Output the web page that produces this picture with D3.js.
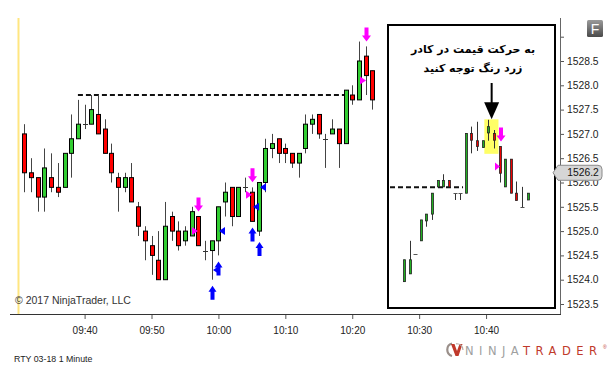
<!DOCTYPE html>
<html><head><meta charset="utf-8">
<script src="https://cdn.jsdelivr.net/npm/d3@7"></script>
<style>body{margin:0;background:#fff}svg{display:block}</style>
</head><body><svg id="c" width="610" height="380"></svg>
<script>
// ---- main chart: RTY 03-18, 1 minute bars starting 09:31 ----
const firstBarMinute = 1; // minutes after 09:30
const mainOpen  = [1527.0,1526.2,1526.1,1525.7,1526.1,1525.9,1525.9,1526.6,1526.9,1527.2,1527.2,1527.4,1527.1,1526.6,1526.1,1525.9,1526.1,1525.5,1525.0,1524.7,1524.4,1524.0,1525.3,1525.0,1524.8,1524.9,1525.3,1524.6,1524.6,1524.8,1525.6,1525.9,1525.3,1525.9,1525.8,1525.0,1526.0,1526.7,1526.9,1526.7,1526.6,1526.4,1526.7,1527.2,1527.4,1526.9,1527.0,1527.1,1526.8,1527.8,1527.7,1528.6,1528.3];
const mainHigh  = [1527.2,1526.5,1526.1,1526.7,1526.6,1526.4,1526.6,1527.4,1527.7,1527.6,1527.8,1527.8,1527.3,1526.8,1526.2,1526.2,1526.4,1525.6,1525.1,1524.9,1525.0,1525.6,1525.4,1525.2,1525.1,1525.5,1525.3,1524.8,1524.8,1525.5,1526.0,1525.9,1525.9,1526.1,1525.9,1526.0,1526.9,1527.0,1526.9,1526.8,1526.6,1526.6,1527.4,1527.4,1527.4,1527.0,1527.3,1527.1,1527.9,1528.0,1528.9,1528.8,1528.3];
const mainLow   = [1525.8,1525.8,1525.4,1525.4,1525.8,1525.7,1525.9,1526.1,1526.9,1527.1,1527.2,1527.0,1526.6,1526.0,1525.4,1525.8,1525.6,1524.9,1524.4,1524.1,1524.0,1524.0,1524.8,1524.6,1524.7,1524.9,1524.7,1524.4,1524.0,1524.5,1525.3,1525.1,1525.3,1525.8,1525.2,1524.9,1525.8,1526.5,1526.4,1526.4,1526.3,1526.1,1526.6,1527.0,1526.9,1526.3,1527.0,1526.3,1526.8,1527.6,1527.7,1527.8,1527.5];
const mainClose = [1526.2,1526.1,1525.7,1526.3,1525.9,1525.8,1526.6,1526.9,1527.2,1527.2,1527.5,1527.0,1526.6,1526.2,1525.9,1526.1,1525.6,1525.1,1524.8,1524.5,1524.0,1525.1,1525.0,1524.7,1525.0,1525.4,1524.7,1524.6,1524.8,1525.5,1525.8,1525.3,1525.9,1525.9,1525.2,1526.0,1526.7,1526.8,1526.6,1526.6,1526.4,1526.6,1527.2,1527.3,1527.0,1526.9,1527.1,1526.8,1527.9,1527.7,1528.5,1528.2,1527.7];

// signal markers (bar index, price)
const sellArrowBars   = [26, 34, 51];
const sellFlagBars    = [26, 34, 51];
const sellFlagPrices  = [1525.0, 1525.75, 1528.1];
const buyArrowBars    = [28, 29, 34, 35];
const buyFlagBars     = [28, 29, 34, 35];
const buyFlagPrices   = [1524.2, 1525.0, 1525.5, 1525.9];

// horizontal dashed resistance line
const resistanceLevel = 1527.8;
const resistanceFrom = 8, resistanceTo = 48;

// axes
const yTickValues = [1523.5,1524.0,1524.5,1525.0,1525.5,1526.0,1526.5,1527.0,1527.5,1528.0,1528.5,1529.0];
const yTickLabels = ["1523.5","1524.0","1524.5","1525.0","1525.5","1526.0","1526.5","1527.0","1527.5","1528.0","1528.5",""];
const xTickMinutes = [10,20,30,40,50,60,70];
const xTickLabels  = ["09:40","09:50","10:00","10:10","10:20","10:30","10:40"];
const lastPrice = 1526.2;

// ---- inset picture (other chart) ----
const insetOpen  = [1523.96,1524.12,1524.53,1524.80,1525.21,1525.35,1525.91,1525.91,1526.04,1525.78,1525.78,1525.78,1527.01,1526.86,1526.72,1527.02,1527.01,1526.74,1525.91,1526.48,1525.78,1525.49,1525.64];
const insetHigh  = [1524.41,1524.80,1524.53,1525.23,1525.35,1525.78,1526.04,1526.17,1526.04,1525.78,1525.78,1527.01,1527.15,1527.25,1526.86,1527.29,1527.08,1526.74,1526.48,1526.48,1526.02,1525.91,1525.78];
const insetLow   = [1523.96,1524.12,1524.53,1524.80,1525.09,1525.23,1525.91,1525.91,1525.91,1525.64,1525.64,1525.78,1526.60,1526.65,1526.72,1526.86,1526.70,1526.00,1525.91,1525.78,1525.63,1525.49,1525.64];
const insetClose = [1524.41,1524.41,1524.53,1525.23,1525.35,1525.78,1526.04,1526.04,1525.91,1525.78,1525.78,1527.01,1526.87,1526.74,1526.86,1527.15,1526.87,1526.19,1526.48,1525.78,1525.63,1525.49,1525.78];
const insetLevel = 1525.9;
const insetHighlightBars = [15, 16];
const insetHighlightPrices = [1527.30, 1526.59];
const insetSellBar = 17, insetSellFlagPrice = 1526.33;
const insetText = ["به حرکت قیمت در کادر", "زرد رنگ توجه کنید"];

const svg = d3.select("#c");
const FONT = "'Liberation Sans', Arial, sans-serif";

const x = d3.scaleLinear().domain([-1.15, 81.05]).range([10, 560]);
const y = d3.scaleLinear().domain([1523.5, 1528.5]).range([304, 61]);
const bx = i => x(firstBarMinute + i);

const GREEN = "#32cd32", RED = "#ff0000";

// session start line
svg.append("line").attr("x1", x(0)+0.8).attr("x2", x(0)+0.8).attr("y1", 18).attr("y2", 314)
  .attr("stroke", "#ffe680").attr("stroke-width", 2);

// resistance dashed line
svg.append("line").attr("x1", bx(resistanceFrom)).attr("x2", bx(resistanceTo))
  .attr("y1", y(resistanceLevel)).attr("y2", y(resistanceLevel))
  .attr("stroke", "#111").attr("stroke-width", 2).attr("stroke-dasharray", "5,3");

// main candles
const bars = d3.range(mainOpen.length).map(i => ({i, o: mainOpen[i], h: mainHigh[i], l: mainLow[i], c: mainClose[i]}));
const g = svg.append("g");
g.selectAll("line.wick").data(bars).join("line")
  .attr("x1", d => Math.round(bx(d.i)) + 0.5).attr("x2", d => Math.round(bx(d.i)) + 0.5)
  .attr("y1", d => y(d.h)).attr("y2", d => y(d.l))
  .attr("stroke", "#444").attr("stroke-width", 1);
g.selectAll("rect.body").data(bars.filter(d => d.o !== d.c)).join("rect")
  .attr("x", d => Math.round(bx(d.i)) - 1.5).attr("width", 4)
  .attr("y", d => y(Math.max(d.o, d.c))).attr("height", d => Math.abs(y(d.o) - y(d.c)))
  .attr("fill", d => d.c > d.o ? GREEN : RED).attr("stroke", "#000").attr("stroke-width", 1);
g.selectAll("line.doji").data(bars.filter(d => d.o === d.c)).join("line")
  .attr("x1", d => Math.round(bx(d.i)) - 2).attr("x2", d => Math.round(bx(d.i)) + 3)
  .attr("y1", d => Math.round(y(d.o)) + 0.5).attr("y2", d => Math.round(y(d.o)) + 0.5)
  .attr("stroke", "#333").attr("stroke-width", 1);

// arrow helpers
function downArrow(cx, tipY, color) {
  return svg.append("path").attr("fill", color).attr("d",
    `M${cx-2},${tipY-14} L${cx+2},${tipY-14} L${cx+2},${tipY-6} L${cx+4.5},${tipY-6} L${cx},${tipY} L${cx-4.5},${tipY-6} L${cx-2},${tipY-6} Z`);
}
function upArrow(cx, tipY, color) {
  return svg.append("path").attr("fill", color).attr("d",
    `M${cx-2},${tipY+14} L${cx+2},${tipY+14} L${cx+2},${tipY+6} L${cx+4},${tipY+6} L${cx},${tipY} L${cx-4},${tipY+6} L${cx-2},${tipY+6} Z`);
}
const MAG = "#ff00ff", BLUE = "#0000ff";
sellArrowBars.forEach(i => downArrow(Math.round(bx(i)) + 0.5, y(mainHigh[i]) - 5, MAG));
buyArrowBars.forEach(i => upArrow(Math.round(bx(i)) + 0.5, y(mainLow[i]) + 6, BLUE));
sellFlagBars.forEach((i, k) => {
  const cx = Math.round(bx(i)), cy = y(sellFlagPrices[k]);
  svg.append("path").attr("fill", MAG).attr("d", `M${cx-6},${cy-4} L${cx},${cy} L${cx-6},${cy+4} Z`);
});
buyFlagBars.forEach((i, k) => {
  const cx = Math.round(bx(i)), cy = y(buyFlagPrices[k]);
  svg.append("path").attr("fill", BLUE).attr("d", `M${cx+7},${cy-4} L${cx+1},${cy} L${cx+7},${cy+4} Z`);
});

// ---- axes ----
const yAxis = svg.append("g").attr("transform", "translate(560,0)")
  .call(d3.axisRight(y).tickValues(yTickValues).tickSize(4).tickPadding(3)
    .tickFormat((d, i) => yTickLabels[i]));
yAxis.select(".domain").remove();
yAxis.selectAll("line").attr("stroke", "#555");
yAxis.selectAll("text").attr("font-family", FONT).attr("font-size", 10.3).attr("fill", "#222");
svg.append("line").attr("x1", 560.5).attr("x2", 560.5).attr("y1", 18).attr("y2", 315)
  .attr("stroke", "#666").attr("stroke-width", 1);

const xAxis = svg.append("g").attr("transform", "translate(0,314)")
  .call(d3.axisBottom(x).tickValues(xTickMinutes).tickSize(5).tickPadding(8)
    .tickFormat((d, i) => xTickLabels[i]));
xAxis.select(".domain").remove();
xAxis.selectAll("line").attr("stroke", "#555");
xAxis.selectAll("text").attr("font-family", FONT).attr("font-size", 10).attr("fill", "#222");
svg.append("line").attr("x1", 10).attr("x2", 561).attr("y1", 314.5).attr("y2", 314.5)
  .attr("stroke", "#333").attr("stroke-width", 1);

// ---- inset box ----
const xi = d3.scaleLinear().domain([0, 22]).range([404, 527.7]);
svg.append("rect").attr("x", 388).attr("y", 25).attr("width", 167).attr("height", 283)
  .attr("fill", "#fff").attr("stroke", "#000").attr("stroke-width", 2);

// highlight
svg.append("rect").attr("x", xi(insetHighlightBars[0]) - 4).attr("width", xi(insetHighlightBars[1]) - xi(insetHighlightBars[0]) + 8.5)
  .attr("y", y(insetHighlightPrices[0])).attr("height", y(insetHighlightPrices[1]) - y(insetHighlightPrices[0]))
  .attr("fill", "#ffff66");

// inset dashed line
svg.append("line").attr("x1", 390).attr("x2", xi(10.5)).attr("y1", y(insetLevel)).attr("y2", y(insetLevel))
  .attr("stroke", "#111").attr("stroke-width", 2).attr("stroke-dasharray", "5,3");

const ib = d3.range(insetOpen.length).map(i => ({i, o: insetOpen[i], h: insetHigh[i], l: insetLow[i], c: insetClose[i]}));
const gi = svg.append("g");
gi.selectAll("line.wick").data(ib).join("line")
  .attr("x1", d => Math.round(xi(d.i)) + 0.5).attr("x2", d => Math.round(xi(d.i)) + 0.5)
  .attr("y1", d => y(d.h)).attr("y2", d => y(d.l))
  .attr("stroke", "#333").attr("stroke-width", 1);
gi.selectAll("rect.body").data(ib.filter(d => d.o !== d.c)).join("rect")
  .attr("x", d => Math.round(xi(d.i)) - 0.5).attr("width", 2)
  .attr("y", d => y(Math.max(d.o, d.c))).attr("height", d => Math.abs(y(d.o) - y(d.c)))
  .attr("fill", d => d.c > d.o ? "#22b022" : "#ee0000").attr("stroke", "#222").attr("stroke-width", 0.8);
gi.selectAll("line.doji").data(ib.filter(d => d.o === d.c)).join("line")
  .attr("x1", d => Math.round(xi(d.i)) - 1.5).attr("x2", d => Math.round(xi(d.i)) + 2.5)
  .attr("y1", d => Math.round(y(d.o)) + 0.5).attr("y2", d => Math.round(y(d.o)) + 0.5)
  .attr("stroke", "#555").attr("stroke-width", 1);

// inset sell markers
downArrow(Math.round(xi(insetSellBar)) + 1, y(insetOpen[insetSellBar]) - 5, MAG);
{
  const cx = Math.round(xi(insetSellBar)), cy = y(insetSellFlagPrice);
  svg.append("path").attr("fill", MAG).attr("d", `M${cx-5},${cy-4} L${cx},${cy} L${cx-5},${cy+4} Z`);
}

// black pointer arrow
{
  const ax = xi(15.5) + 0.5, tip = y(insetHighlightPrices[0]);
  svg.append("line").attr("x1", ax).attr("x2", ax).attr("y1", 83).attr("y2", tip - 14)
    .attr("stroke", "#000").attr("stroke-width", 2);
  svg.append("path").attr("fill", "#000").attr("d", `M${ax-7.5},${tip-17} L${ax+7.5},${tip-17} L${ax},${tip} Z`);
}

// Persian text
svg.selectAll("text.fa").data(insetText).join("text")
  .attr("x", 473).attr("y", (d, i) => 53 + i * 18.5)
  .attr("text-anchor", "middle").attr("direction", "rtl")
  .attr("font-family", "'DejaVu Sans', sans-serif").attr("font-weight", "bold")
  .attr("font-size", 11).attr("fill", "#000").text(d => d);

// last price marker
{
  const py = y(lastPrice);
  svg.append("path").attr("fill", "#d6d6d6").attr("stroke", "#8a8a8a").attr("stroke-width", 1)
    .attr("d", `M553,${py} L558,${py-7.5} L598,${py-7.5} Q602,${py-7.5} 602,${py-3.5} L602,${py+3.5} Q602,${py+7.5} 598,${py+7.5} L558,${py+7.5} Z`);
  svg.append("text").attr("x", 583).attr("y", py).attr("dy", "0.35em").attr("text-anchor", "middle")
    .attr("font-family", FONT).attr("font-size", 10.3).attr("fill", "#111").text(lastPrice.toFixed(1));
}

// F button
{
  const defs = svg.append("defs");
  const lg = defs.append("linearGradient").attr("id", "fg").attr("x1", 0).attr("y1", 0).attr("x2", 0).attr("y2", 1);
  lg.append("stop").attr("offset", 0).attr("stop-color", "#9a9a9a");
  lg.append("stop").attr("offset", 1).attr("stop-color", "#4a4a4a");
  svg.append("rect").attr("x", 587).attr("y", 20).attr("width", 16).attr("height", 17).attr("rx", 1.5)
    .attr("fill", "url(#fg)");
  svg.append("text").attr("x", 595).attr("y", 33.5).attr("text-anchor", "middle")
    .attr("font-family", FONT).attr("font-size", 14).attr("fill", "#fff").text("F");
}

// copyright + instrument label
svg.append("text").attr("x", 15).attr("y", 303.5).attr("font-family", FONT).attr("font-size", 10.5)
  .attr("fill", "#333").text("© 2017 NinjaTrader, LLC");
svg.append("text").attr("x", 14).attr("y", 362).attr("font-family", FONT).attr("font-size", 8.8)
  .attr("fill", "#222").text("RTY 03-18 1 Minute");

// NinjaTrader logo
{
  const lg = svg.append("g");
  lg.append("path").attr("fill", "none").attr("stroke", "#9a8f8a").attr("stroke-width", 2.2)
    .attr("d", "M452,343.5 A6.5,6.5 0 0 0 452,356");
  lg.append("path").attr("fill", "#c0392b")
    .attr("d", "M451,344 L454.5,344 L457,351 L459.5,344 L462.5,344 L458.5,356 L455.5,356 Z");
  lg.append("path").attr("fill", "none").attr("stroke", "#b5aaa5").attr("stroke-width", 1.2)
    .attr("d", "M456,343.8 A6.2,6.2 0 0 1 463,350");
  const t = lg.append("text").attr("x", 465).attr("y", 354.5).attr("font-family", "'DejaVu Sans', sans-serif")
    .attr("font-size", 11.5).attr("letter-spacing", 4).attr("textLength", 136).attr("lengthAdjust", "spacing");
  t.append("tspan").attr("fill", "#a0a0a0").text("NINJA");
  t.append("tspan").attr("fill", "#c0392b").text("TRADER");
  lg.append("text").attr("x", 603).attr("y", 349).attr("font-family", FONT)
    .attr("font-size", 5).attr("fill", "#c0392b").text("®");
}
</script></body></html>
